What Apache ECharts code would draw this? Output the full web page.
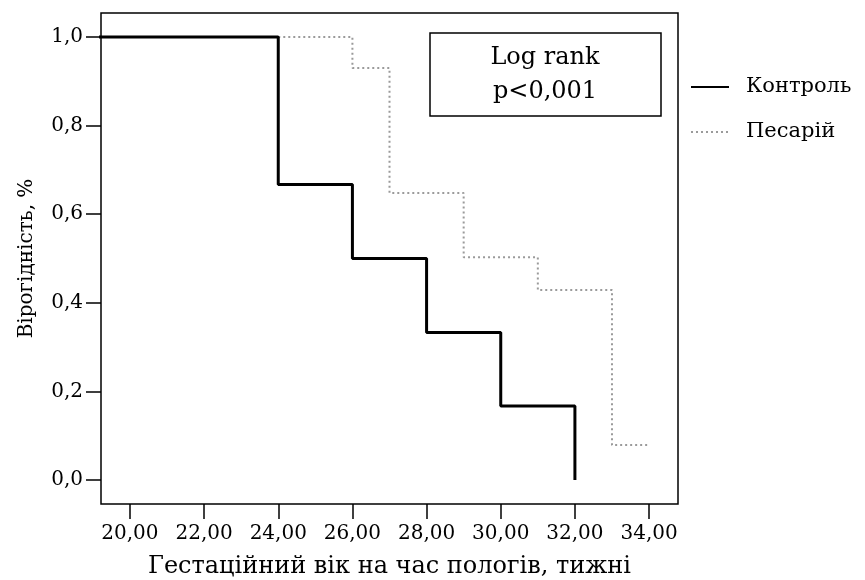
<!DOCTYPE html>
<html>
<head>
<meta charset="utf-8">
<script src="https://cdn.jsdelivr.net/npm/echarts@6/dist/echarts.min.js"></script>
<style>
  html, body { margin: 0; padding: 0; background: #fff; }
  #chart { width: 865px; height: 580px; }
</style>
</head>
<body>
<div id="chart"></div>
<script>
// Kaplan-Meier: час (тижні) і вірогідність після кожної події
var controlTimes = [0, 24, 26, 28, 30, 32];
var controlSurv = [1, 0.667, 0.5, 0.333, 0.167, 0];
var pessaryTimes = [0, 26, 27, 29, 31, 33, 34];
var pessarySurv = [1, 0.93, 0.648, 0.503, 0.429, 0.079, 0.079];
var xTicks = [20, 22, 24, 26, 28, 30, 32, 34];
var yTicks = [0, 0.2, 0.4, 0.6, 0.8, 1.0];

function pairs(t, s) {
    return t.map(function (v, i) { return [v, s[i]]; });
}

var font = 'DejaVu Serif';
var chart = echarts.init(document.getElementById('chart'));

var option = {
    backgroundColor: '#fff',
    animation: false,
    textStyle: { fontFamily: font, color: '#000' },
    grid: {
        left: 101, right: 187, top: 13, bottom: 76,
        show: true, borderColor: '#000', borderWidth: 1.5,
        containLabel: false,
        outerBoundsMode: 'none'
    },
    legend: {
        orient: 'vertical',
        left: 685, top: 69,
        itemWidth: 38, itemHeight: 14, itemGap: 19,
        data: ['Контроль', 'Песарій'],
        itemStyle: { opacity: 0 },
        textStyle: { fontFamily: font, fontSize: 21, color: '#000', lineHeight: 26, padding: [0, 0, 0, 12] }
    },
    xAxis: {
        type: 'value',
        min: 19.22, max: 34.78,
        name: 'Гестаційний вік на час пологів, тижні',
        nameLocation: 'middle',
        nameGap: 51,
        nameTextStyle: { fontFamily: font, fontSize: 24, color: '#000' },
        axisLine: { show: false, onZero: false },
        splitLine: { show: false },
        axisTick: { show: true, inside: false, length: 15, customValues: xTicks, lineStyle: { color: '#000', width: 1.5 } },
        axisLabel: {
            customValues: xTicks, margin: 20,
            fontFamily: font, fontSize: 20, color: '#000',
            formatter: function (v) { return v.toFixed(2).replace('.', ','); }
        }
    },
    yAxis: {
        type: 'value',
        min: -0.054, max: 1.054,
        name: 'Вірогідність, %',
        nameLocation: 'middle',
        nameGap: 64,
        nameTextStyle: { fontFamily: font, fontSize: 20, color: '#000' },
        axisLine: { show: false, onZero: false },
        splitLine: { show: false },
        axisTick: { show: true, inside: false, length: 15, customValues: yTicks, lineStyle: { color: '#000', width: 1.5 } },
        axisLabel: {
            customValues: yTicks, margin: 18,
            fontFamily: font, fontSize: 20, color: '#000',
            formatter: function (v) { return v.toFixed(1).replace('.', ','); }
        }
    },
    series: [
        {
            name: 'Песарій',
            type: 'line',
            step: 'end',
            symbol: 'none',
            z: 2,
            itemStyle: { color: '#9a9a9a' },
            lineStyle: { color: '#9a9a9a', width: 2, type: [2, 3] },
            data: pairs(pessaryTimes, pessarySurv)
        },
        {
            name: 'Контроль',
            type: 'line',
            step: 'end',
            symbol: 'none',
            z: 3,
            itemStyle: { color: '#000' },
            lineStyle: { color: '#000', width: 3 },
            data: pairs(controlTimes, controlSurv)
        }
    ],
    graphic: [
        {
            type: 'rect',
            shape: { x: 430, y: 33, width: 231, height: 83 },
            style: { fill: '#fff', stroke: '#000', lineWidth: 1.5 },
            z: 10
        },
        {
            type: 'text',
            x: 545, y: 75,
            style: {
                text: 'Log rank\np<0,001',
                font: '24px "DejaVu Serif"',
                fill: '#000',
                align: 'center',
                verticalAlign: 'middle',
                lineHeight: 34
            },
            z: 11
        }
    ]
};
chart.setOption(option);
</script>
</body>
</html>
